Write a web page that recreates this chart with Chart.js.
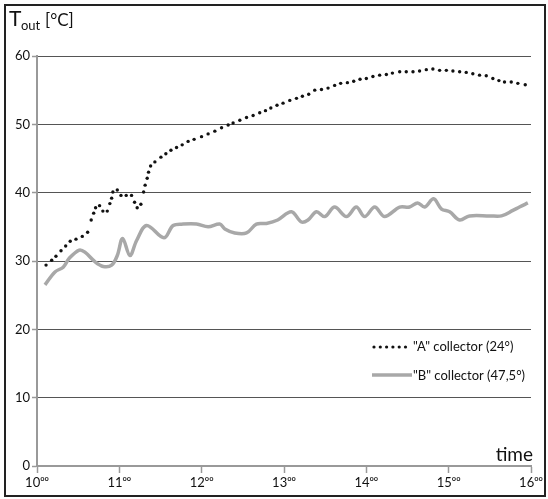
<!DOCTYPE html>
<html>
<head>
<meta charset="utf-8">
<script src="https://cdn.jsdelivr.net/npm/chart.js@4.4.1/dist/chart.umd.min.js"></script>
<style>
html,body{margin:0;padding:0;background:#fff;}
#wrap{width:548px;height:499px;position:relative;}
</style>
</head>
<body>
<div id="wrap"><canvas id="c" width="548" height="499"></canvas></div>
<script>
// Time in minutes after 10:00
const hourTicks = ['10', '11', '12', '13', '14', '15', '16'];

const seriesALabel = '"A" collector (24°)';
const timesA = [6.6,10.7,13.8,17.5,20.9,24.2,28.4,33.0,36.9,39.5,41.3,42.7,45.6,48.0,51.2,53.1,54.4,55.3,58.5,61.2,65.0,68.9,71.1,73.0,75.7,77.7,78.8,80.3,81.3,82.8,85.9,
  90.3,93.9,97.6,101.7,105.8,110.1,114.5,119.9,124.7,129.6,134.5,139.3,142.9,147.8,152.7,157.5,162.3,166.5,170.4,
  174.9,179.3,184.2,189.1,193.4,198.0,202.4,207.3,212.1,216.9,221.3,226.2,230.8,235.4,240.0,244.8,249.7,254.6,259.0,
  264.3,269.1,274.0,278.8,283.7,288.5,293.4,298.3,303.1,308.0,312.8,317.6,322.5,327.4,332.2,336.6,340.7,345.6,350.4,355.8];
const valuesA = [29.4,30.1,30.7,31.5,32.2,32.9,33.2,33.6,34.2,36.0,37.0,37.8,38.1,37.3,37.3,38.4,39.2,40.1,40.4,39.6,39.6,39.6,38.6,37.8,38.3,40.1,41.1,42.1,43.0,43.9,44.5,
  45.2,45.7,46.2,46.6,47.0,47.5,47.8,48.2,48.6,49.0,49.5,49.9,50.2,50.6,51.0,51.3,51.7,52.0,52.4,
  52.8,53.1,53.5,53.8,54.1,54.4,55.0,55.1,55.3,55.7,56.0,56.1,56.3,56.6,56.7,57.0,57.2,57.3,57.5,
  57.7,57.7,57.7,57.8,58.0,58.1,57.9,57.9,57.8,57.7,57.6,57.4,57.2,57.1,56.7,56.4,56.2,56.2,56.0,55.8];

const seriesBLabel = '"B" collector (47,5°)';
const timesB = [5.8,13.1,19.1,23.5,30.8,34.9,42.2,48.3,54.4,58.5,62.4,67.7,72.6,79.9,92.5,99.2,106.5,116.3,124.7,133.2,136.9,144.1,152.7,159.9,167.2,175.4,185.4,192.7,197.5,203.6,209.7,216.9,225.5,232.7,238.8,246.1,253.3,264.3,271.5,277.4,282.5,289.0,294.8,300.7,308.0,315.2,329.8,338.5,346.8,351.6,357.7];
const valuesB = [26.5,28.4,29.1,30.4,31.6,31.3,29.9,29.2,29.4,30.8,33.3,30.8,33.0,35.2,33.4,35.2,35.4,35.4,35.0,35.4,34.7,34.1,34.1,35.4,35.5,36.0,37.2,35.7,36.0,37.2,36.5,37.9,36.5,37.9,36.5,37.9,36.5,37.9,37.9,38.5,37.9,39.1,37.6,37.2,36.0,36.6,36.6,36.6,37.4,37.9,38.5];

const yTicks = [0, 10, 20, 30, 40, 50, 60];

const toXY = (xs, ys) => xs.map((x, i) => ({x: x, y: ys[i]}));

const FONT = 'Lato, "Open Sans", "DejaVu Sans", sans-serif';

const decor = {
  id: 'decor',
  afterDraw(chart) {
    const ctx = chart.ctx;
    const ca = chart.chartArea;
    ctx.save();
    // frame
    ctx.strokeStyle = '#222';
    ctx.lineWidth = 2;
    ctx.strokeRect(5, 5, 540, 491);
    // title T_out [°C]
    ctx.fillStyle = '#111';
    ctx.textBaseline = 'alphabetic';
    ctx.textAlign = 'left';
    ctx.font = '21px ' + FONT;
    ctx.fillText('T', 9, 26);
    ctx.font = '13px ' + FONT;
    ctx.fillText('out', 21, 30);
    ctx.font = '17px ' + FONT;
    ctx.fillText('[°C]', 45, 26);
    // time label
    ctx.font = '19px ' + FONT;
    ctx.textAlign = 'right';
    ctx.fillText('time', ca.right + 2, ca.bottom - 5);
    // legend
    const ds = chart.data.datasets;
    const lx = ca.right - 159;
    const ly1 = 347, ly2 = 375;
    ctx.fillStyle = '#fff';
    ctx.fillRect(lx - 4, ly1 - 12, 162, 52);
    // A dots
    ctx.fillStyle = ds[0].pointBackgroundColor;
    for (let i = 0; i < 6; i++) {
      ctx.beginPath();
      ctx.arc(lx + 2 + i * 6.3, ly1, 1.6, 0, Math.PI * 2);
      ctx.fill();
    }
    // B line
    ctx.strokeStyle = ds[1].borderColor;
    ctx.lineWidth = ds[1].borderWidth;
    ctx.beginPath();
    ctx.moveTo(lx, ly2);
    ctx.lineTo(lx + 40, ly2);
    ctx.stroke();
    ctx.fillStyle = '#111';
    ctx.textAlign = 'left';
    ctx.textBaseline = 'middle';
    ctx.font = '13px ' + FONT;
    ctx.fillText(ds[0].label, lx + 41, ly1);
    ctx.fillText(ds[1].label, lx + 41, ly2 + 1);
    ctx.restore();
  }
};

new Chart(document.getElementById('c'), {
  type: 'line',
  data: {
    datasets: [
      {
        label: seriesALabel,
        data: toXY(timesA, valuesA),
        showLine: false,
        pointRadius: 1.7,
        pointBorderWidth: 0,
        pointBackgroundColor: '#111',
        pointBorderColor: '#111',
        borderColor: '#111'
      },
      {
        label: seriesBLabel,
        data: toXY(timesB, valuesB),
        borderColor: '#a8a8a8',
        borderWidth: 3.5,
        pointRadius: 0,
        tension: 0.35,
        fill: false
      }
    ]
  },
  options: {
    responsive: false,
    animation: false,
    events: [],
    layout: { padding: { left: 0, right: 17, top: 56, bottom: 0 } },
    plugins: { legend: { display: false }, tooltip: { enabled: false } },
    scales: {
      x: {
        type: 'linear',
        min: 0, max: 360,
        afterBuildTicks: s => { s.ticks = hourTicks.map((h, i) => ({ value: i * 60 })); },
        afterFit: s => { s.height = 33; },
        ticks: {
          callback: (v, i) => hourTicks[i] + '⁰⁰',
          color: '#111',
          font: { family: FONT, size: 13 },
          padding: 2,
          maxRotation: 0,
          autoSkip: false
        },
        grid: { drawOnChartArea: false, drawTicks: true, tickLength: 7, tickColor: '#999', tickWidth: 1.5 },
        border: { color: '#999', width: 2 }
      },
      y: {
        min: 0, max: 60,
        afterBuildTicks: s => { s.ticks = yTicks.map(v => ({ value: v })); },
        afterFit: s => { s.width = 37; },
        ticks: {
          color: '#111',
          font: { family: FONT, size: 13 },
          padding: 2
        },
        grid: {
          color: ctx => ctx.tick && ctx.tick.value === 0 ? 'rgba(0,0,0,0)' : '#555',
          lineWidth: 1,
          tickLength: 5,
          tickColor: '#999',
          tickWidth: 1.5
        },
        border: { color: '#999', width: 2 }
      }
    }
  },
  plugins: [decor]
});
</script>
</body>
</html>
